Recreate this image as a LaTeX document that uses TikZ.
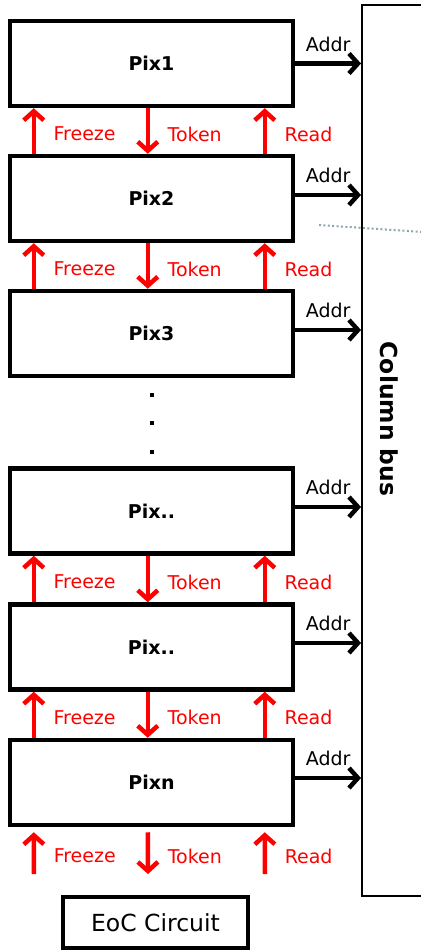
\documentclass[tikz,border=0pt]{standalone}
\usepackage{fontspec}
\setmainfont{DejaVu Sans}
\usetikzlibrary{arrows.meta,positioning}
\definecolor{busline}{HTML}{8FA6AC}

\begin{document}
\begin{tikzpicture}[x=0.5pt, y=-0.5pt,
  every node/.style={font=\fontsize{9.5}{11}\selectfont},
  pix/.style={rectangle, draw, line width=2.25pt, minimum width=141.5pt,
              minimum height=42.5pt, inner sep=0pt,
              font=\fontsize{9.5}{11}\selectfont\bfseries},
  eoc/.style={rectangle, draw, line width=2.25pt, minimum width=92.5pt,
              minimum height=25.5pt, inner sep=0pt,
              font=\fontsize{11.75}{13}\selectfont},
  bus/.style={rectangle, draw, line width=1pt, minimum width=40pt,
              minimum height=445.5pt, inner sep=0pt},
  sig/.style={-{Straight Barb[length=4.5pt, width=10pt]}, line width=2.25pt, red},
  addr/.style={-{Straight Barb[length=4.5pt, width=10pt]}, line width=2.25pt},
  siglabel/.style={text=red, right=5.5pt, yshift=-1.5pt},
]
\useasboundingbox (0,0) rectangle (421,952);

\node[bus] (bus) at (402,450.5) {};
\node[rotate=-90, font=\fontsize{11.7}{13}\selectfont\bfseries] (busname) at (389.5,419) {Column bus};

\node[pix] (Pix1) at (151.5,63.5) {Pix1};
\node[pix] (Pix2) at (151.5,198.5) {Pix2};
\node[pix] (Pix3) at (151.5,333.5) {Pix3};
\node[pix] (Pix4) at (151.5,511) {Pix..};
\node[pix] (Pix5) at (151.5,647) {Pix..};
\node[pix] (Pixn) at (151.5,782.5) {Pixn};
\node[eoc] (EoC) at (155.5,922.5) {EoC Circuit};

\foreach \yy in {395,423,452}
  \fill (150,\yy-2) rectangle ++(4,4);

\draw[busline, line width=1pt, dash pattern=on 1pt off 1.2pt] (319,225) -- (430,232.5);

\draw[addr] ([yshift=0pt]Pix1.east) -- ([yshift=0pt]Pix1.east -| bus.west) node[midway, above=1.5pt] {Addr};
\draw[addr] ([yshift=1.75pt]Pix2.east) -- ([yshift=1.75pt]Pix2.east -| bus.west) node[midway, above=1.5pt] {Addr};
\draw[addr] ([yshift=1.75pt]Pix3.east) -- ([yshift=1.75pt]Pix3.east -| bus.west) node[midway, above=1.5pt] {Addr};
\draw[addr] ([yshift=2pt]Pix4.east) -- ([yshift=2pt]Pix4.east -| bus.west) node[midway, above=1.5pt] {Addr};
\draw[addr] ([yshift=2pt]Pix5.east) -- ([yshift=2pt]Pix5.east -| bus.west) node[midway, above=1.5pt] {Addr};
\draw[addr] ([yshift=2.25pt]Pixn.east) -- ([yshift=2.25pt]Pixn.east -| bus.west) node[midway, above=1.5pt] {Addr};

\draw[sig] ([xshift=13pt]Pix2.north west) -- node[siglabel]{Freeze} ([xshift=13pt]Pix1.south west);
\draw[sig] ([xshift=70pt]Pix1.south west) -- node[siglabel]{Token} ([xshift=70pt]Pix2.north west);
\draw[sig] ([xshift=128.5pt]Pix2.north west) -- node[siglabel]{Read} ([xshift=128.5pt]Pix1.south west);

\draw[sig] ([xshift=13pt]Pix3.north west) -- node[siglabel]{Freeze} ([xshift=13pt]Pix2.south west);
\draw[sig] ([xshift=70pt]Pix2.south west) -- node[siglabel]{Token} ([xshift=70pt]Pix3.north west);
\draw[sig] ([xshift=128.5pt]Pix3.north west) -- node[siglabel]{Read} ([xshift=128.5pt]Pix2.south west);

\draw[sig] ([xshift=13pt]Pix5.north west) -- node[siglabel]{Freeze} ([xshift=13pt]Pix4.south west);
\draw[sig] ([xshift=70pt]Pix4.south west) -- node[siglabel]{Token} ([xshift=70pt]Pix5.north west);
\draw[sig] ([xshift=128.5pt]Pix5.north west) -- node[siglabel]{Read} ([xshift=128.5pt]Pix4.south west);

\draw[sig] ([xshift=13pt]Pixn.north west) -- node[siglabel]{Freeze} ([xshift=13pt]Pix5.south west);
\draw[sig] ([xshift=70pt]Pix5.south west) -- node[siglabel]{Token} ([xshift=70pt]Pixn.north west);
\draw[sig] ([xshift=128.5pt]Pixn.north west) -- node[siglabel]{Read} ([xshift=128.5pt]Pix5.south west);

\coordinate (inF) at (34,874);
\coordinate (inT) at (148,874);
\coordinate (inR) at (265,874);
\draw[sig] (inF) -- node[siglabel]{Freeze} ([xshift=13pt,yshift=-2.5pt]Pixn.south west);
\draw[sig] ([xshift=70pt,yshift=-2.5pt]Pixn.south west) -- node[siglabel]{Token} (inT);
\draw[sig] (inR) -- node[siglabel]{Read} ([xshift=128.5pt,yshift=-2.5pt]Pixn.south west);

\end{tikzpicture}
\end{document}
